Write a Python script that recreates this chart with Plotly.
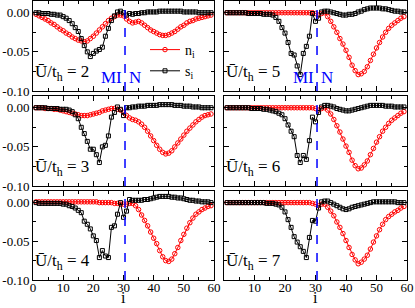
import plotly.graph_objects as go

sites = list(range(1, 60))
U_values = [2, 3, 4, 5, 6, 7]

n_U2 = [-0.002,-0.004,-0.006,-0.008,-0.010,-0.013,-0.015,-0.018,-0.021,-0.023,
        -0.026,-0.028,-0.031,-0.033,-0.035,-0.036,-0.037,-0.036,-0.033,-0.030,
        -0.026,-0.022,-0.018,-0.014,-0.010,-0.007,-0.005,-0.003,-0.003,-0.004,
        -0.008,-0.011,-0.013,-0.012,-0.011,-0.013,-0.016,-0.019,-0.022,-0.024,
        -0.026,-0.028,-0.029,-0.029,-0.028,-0.026,-0.024,-0.021,-0.018,-0.016,
        -0.013,-0.011,-0.010,-0.008,-0.007,-0.006,-0.005,-0.004,-0.003]
s_U2 = [0.000,0.000,-0.001,-0.001,-0.001,-0.002,-0.002,-0.003,-0.003,-0.005,
        -0.007,-0.010,-0.014,-0.019,-0.024,-0.033,-0.042,-0.050,-0.056,-0.052,
        -0.049,-0.047,-0.044,-0.030,-0.020,-0.010,-0.004,0.001,0.002,0.000,
        -0.003,-0.001,-0.002,-0.001,-0.001,0.000,0.000,0.001,0.001,0.001,
        0.001,0.002,0.002,0.002,0.002,0.002,0.002,0.002,0.002,0.001,
        0.001,0.001,0.001,0.001,0.000,0.000,0.000,0.000,0.000]

n_U3 = [0.000,0.000,0.000,-0.001,-0.001,-0.001,-0.002,-0.002,-0.003,-0.004,
        -0.005,-0.006,-0.007,-0.008,-0.009,-0.010,-0.010,-0.010,-0.009,-0.008,
        -0.007,-0.006,-0.004,-0.003,-0.002,-0.001,-0.001,-0.002,-0.003,-0.006,
        -0.010,-0.013,-0.015,-0.016,-0.018,-0.021,-0.025,-0.030,-0.036,-0.042,
        -0.048,-0.053,-0.057,-0.059,-0.058,-0.055,-0.050,-0.045,-0.040,-0.035,
        -0.030,-0.026,-0.022,-0.018,-0.015,-0.012,-0.010,-0.009,-0.008]
s_U3 = [0.000,0.000,0.000,0.000,-0.001,-0.001,-0.001,-0.001,-0.002,-0.002,
        -0.002,-0.003,-0.005,-0.009,-0.014,-0.025,-0.033,-0.043,-0.053,-0.053,
        -0.060,-0.070,-0.050,-0.048,-0.036,-0.012,-0.006,0.001,-0.002,-0.010,
        0.000,0.000,0.001,0.001,0.002,0.002,0.002,0.003,0.003,0.003,
        0.003,0.004,0.004,0.004,0.004,0.004,0.003,0.003,0.003,0.002,
        0.002,0.002,0.001,0.001,0.001,0.000,0.000,0.000,0.000]

n_U4 = [0.001,0.001,0.001,0.001,0.001,0.001,0.001,0.001,0.001,0.001,
        0.001,0.001,0.001,0.001,0.001,0.001,0.001,0.001,0.001,0.001,
        0.001,0.000,0.000,0.000,0.000,0.000,-0.001,-0.001,-0.002,-0.002,
        -0.002,-0.001,-0.001,-0.004,-0.009,-0.016,-0.023,-0.030,-0.038,-0.046,
        -0.053,-0.062,-0.070,-0.075,-0.076,-0.073,-0.066,-0.058,-0.049,-0.041,
        -0.033,-0.026,-0.020,-0.015,-0.012,-0.009,-0.007,-0.005,-0.004]
s_U4 = [0.000,-0.001,-0.001,-0.001,-0.001,-0.001,-0.001,-0.001,-0.001,-0.002,
        -0.002,-0.004,-0.005,-0.007,-0.010,-0.013,-0.024,-0.028,-0.034,-0.043,
        -0.049,-0.071,-0.062,-0.069,-0.071,-0.032,-0.030,-0.015,0.000,-0.019,
        -0.011,0.004,0.003,0.003,0.003,0.003,0.004,0.004,0.005,0.006,
        0.007,0.008,0.008,0.008,0.008,0.007,0.007,0.006,0.006,0.005,
        0.004,0.003,0.003,0.002,0.002,0.001,0.001,0.001,0.000]

n_U5 = [0.000,0.000,0.000,0.000,0.000,0.000,0.000,0.000,0.000,0.000,
        0.000,0.000,0.000,0.000,0.000,0.000,0.000,0.000,0.000,0.000,
        0.000,0.000,0.000,0.000,0.000,0.000,0.000,0.000,0.000,-0.001,
        -0.003,-0.001,0.000,-0.005,-0.011,-0.018,-0.025,-0.033,-0.040,-0.048,
        -0.057,-0.067,-0.074,-0.079,-0.078,-0.075,-0.069,-0.061,-0.053,-0.045,
        -0.038,-0.031,-0.025,-0.020,-0.016,-0.013,-0.010,-0.007,-0.005]
s_U5 = [0.000,0.000,0.000,0.000,0.000,0.000,0.000,-0.001,-0.001,-0.001,
        -0.001,-0.001,-0.002,-0.002,-0.002,-0.003,-0.006,-0.011,-0.019,-0.026,
        -0.038,-0.052,-0.054,-0.068,-0.079,-0.052,-0.043,-0.030,-0.001,-0.011,
        -0.007,0.001,0.002,0.002,0.001,0.000,-0.001,-0.002,-0.003,-0.003,
        -0.002,-0.002,-0.001,0.001,0.002,0.004,0.005,0.006,0.006,0.006,
        0.006,0.005,0.005,0.004,0.003,0.002,0.002,0.001,0.001]

n_U6 = [0.000,0.000,0.000,0.000,0.000,0.000,0.000,0.000,0.000,0.000,
        0.000,0.000,0.000,0.000,0.000,0.000,0.000,0.000,0.000,0.000,
        0.000,0.000,0.000,0.000,0.000,0.000,0.000,0.000,0.000,-0.001,
        -0.003,-0.001,0.000,-0.003,-0.008,-0.015,-0.023,-0.031,-0.040,-0.049,
        -0.057,-0.067,-0.074,-0.078,-0.077,-0.073,-0.068,-0.060,-0.052,-0.044,
        -0.037,-0.030,-0.025,-0.020,-0.016,-0.013,-0.010,-0.007,-0.005]
s_U6 = [0.000,0.000,0.000,0.000,0.000,0.000,0.000,0.000,-0.001,-0.001,
        -0.001,-0.001,-0.002,-0.002,-0.003,-0.004,-0.005,-0.007,-0.009,-0.014,
        -0.022,-0.030,-0.037,-0.061,-0.070,-0.061,-0.066,-0.042,-0.012,-0.018,
        -0.006,0.001,0.003,0.003,0.002,0.001,-0.001,-0.002,-0.003,-0.004,
        -0.004,-0.003,-0.002,-0.001,0.000,0.001,0.002,0.003,0.003,0.003,
        0.003,0.003,0.002,0.002,0.002,0.001,0.001,0.001,0.001]

n_U7 = [0.000,0.000,0.000,0.000,0.000,0.000,0.000,0.000,0.000,0.000,
        0.000,0.000,0.000,0.000,0.000,0.000,0.000,0.000,0.000,0.000,
        0.000,0.000,0.000,0.000,0.000,0.000,0.000,0.000,-0.001,-0.002,
        -0.004,-0.002,-0.002,-0.006,-0.011,-0.017,-0.025,-0.032,-0.040,-0.049,
        -0.058,-0.067,-0.074,-0.079,-0.077,-0.073,-0.068,-0.060,-0.051,-0.043,
        -0.035,-0.028,-0.022,-0.018,-0.015,-0.012,-0.010,-0.007,-0.005]
s_U7 = [0.000,0.000,0.000,0.000,0.000,0.000,0.000,0.000,0.000,0.000,
        0.000,0.000,0.000,-0.001,-0.001,-0.001,-0.002,-0.003,-0.006,-0.012,
        -0.022,-0.032,-0.044,-0.051,-0.057,-0.063,-0.071,-0.045,-0.023,-0.024,
        -0.007,0.001,0.002,0.002,0.000,-0.002,-0.004,-0.006,-0.008,-0.009,
        -0.008,-0.006,-0.005,-0.004,-0.003,-0.002,-0.001,0.000,0.001,0.001,
        0.001,0.001,0.001,0.001,0.001,0.001,0.000,0.000,0.000]

n_series = [n_U2, n_U3, n_U4, n_U5, n_U6, n_U7]
s_series = [s_U2, s_U3, s_U4, s_U5, s_U6, s_U7]

x_ticks_left = [0, 10, 20, 30, 40, 50, 60]
x_ticks_right = [10, 20, 30, 40, 50, 60]
y_tickvals = [0.0, -0.05, -0.10]
y_ticktext = ["0.00", "-0.05", "-0.10"]
x_title = "i"
interface_site = 30.5

W, H = 415, 308
col_px = [(33, 214), (224, 407)]
row_px = [(1, 91), (96, 186), (191, 280)]

FONT = "Liberation Serif"
RED = "#ff0000"
BLUE = "#0000ff"

fig = go.Figure()
layout = {}
annotations = []
shapes = []

for k in range(6):
    col = k // 3
    row = k % 3
    idx = k + 1
    xa = f"x{idx}" if idx > 1 else "x"
    ya = f"y{idx}" if idx > 1 else "y"
    xname = f"xaxis{idx}" if idx > 1 else "xaxis"
    yname = f"yaxis{idx}" if idx > 1 else "yaxis"
    cx0, cx1 = col_px[col]
    ry0, ry1 = row_px[row]

    fig.add_trace(go.Scatter(
        x=sites, y=n_series[k], xaxis=xa, yaxis=ya, mode="lines+markers",
        name="n<sub>i</sub>", showlegend=(k == 0), legendrank=1,
        line=dict(color=RED, width=1),
        marker=dict(symbol="circle-open", size=4.5, color=RED, line=dict(width=1, color=RED)),
    ))
    fig.add_trace(go.Scatter(
        x=sites, y=s_series[k], xaxis=xa, yaxis=ya, mode="lines+markers",
        name="s<sub>i</sub>", showlegend=(k == 0), legendrank=2,
        line=dict(color="black", width=1),
        marker=dict(symbol="square-open", size=4, color="black", line=dict(width=1, color="black")),
    ))

    bottom = (row == 2)
    layout[xname] = dict(
        domain=[cx0 / W, cx1 / W], range=[0, 60], anchor=ya, automargin=False,
        showline=True, linecolor="black", linewidth=1, mirror="allticks",
        ticks="inside", ticklen=5, tickcolor="black",
        tickmode="array", tickvals=(x_ticks_left if col == 0 else x_ticks_right),
        showticklabels=bottom, showgrid=False, zeroline=False, ticklabelstandoff=-5,
        tickfont=dict(family=FONT, size=13, color="black"),
        minor=dict(ticks="inside", ticklen=3, tick0=0, dtick=5, tickcolor="black", showgrid=False),
    )
    layout[yname] = dict(
        domain=[1 - ry1 / H, 1 - ry0 / H], range=[-0.10, 0.015], anchor=xa, automargin=False,
        showline=True, linecolor="black", linewidth=1, mirror="allticks",
        ticks="inside", ticklen=5, tickcolor="black",
        tickmode="array", tickvals=y_tickvals, ticktext=y_ticktext,
        showticklabels=(col == 0), showgrid=False, zeroline=False,
        tickfont=dict(family=FONT, size=13, color="black"),
        minor=dict(ticks="inside", ticklen=3, tick0=0, dtick=0.025, tickcolor="black", showgrid=False),
    )

    shapes.append(dict(type="line", xref=xa, yref=f"{ya} domain",
                       x0=interface_site, x1=interface_site, y0=0, y1=1,
                       line=dict(color=BLUE, width=1.5, dash="dash")))

    annotations.append(dict(
        xref=f"{xa} domain", yref=f"{ya} domain", x=0.0, y=0.2,
        xanchor="left", yanchor="middle", showarrow=False,
        text=f"Ū/t<sub>h</sub> = {U_values[k]}",
        font=dict(family=FONT, size=17, color="black"),
    ))

    if bottom:
        annotations.append(dict(
            xref=f"{xa} domain", yref="paper", x=0.5, y=0.0,
            xanchor="center", yanchor="bottom", showarrow=False, text=x_title,
            font=dict(family=FONT, size=16, color="black")))

    if row == 0:
        annotations.append(dict(
            xref=xa, yref="paper", x=interface_site - 0.3, y=1 - 89 / H,
            xanchor="right", yanchor="bottom", showarrow=False, text="MI",
            font=dict(family=FONT, size=17, color=BLUE)))
        annotations.append(dict(
            xref=xa, yref="paper", x=interface_site + 0.6, y=1 - 89 / H,
            xanchor="left", yanchor="bottom", showarrow=False, text="N",
            font=dict(family=FONT, size=17, color=BLUE)))

fig.update_layout(
    width=W, height=H, margin=dict(l=0, r=0, t=0, b=0),
    paper_bgcolor="white", plot_bgcolor="white",
    font=dict(family=FONT, size=13, color="black"),
    showlegend=True,
    legend=dict(x=145 / W, y=1 - 34 / H, xanchor="left", yanchor="top",
                bgcolor="rgba(0,0,0,0)", font=dict(family=FONT, size=14, color="black"),
                tracegroupgap=0, itemwidth=30),
    shapes=shapes, annotations=annotations,
    **layout,
)

fig.write_html("out.html", config={"displayModeBar": False},
               post_script="document.body.style.margin='0px';document.body.style.padding='0px';")
